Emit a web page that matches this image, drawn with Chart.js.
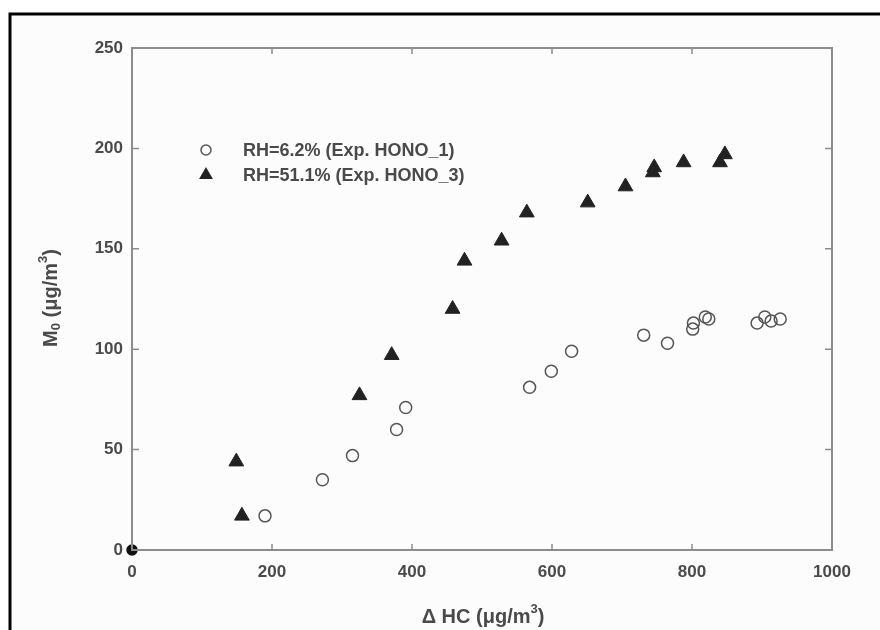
<!DOCTYPE html>
<html>
<head>
<meta charset="utf-8">
<script src="https://cdn.jsdelivr.net/npm/chart.js@4.4.1/dist/chart.umd.min.js"></script>
<style>
  html, body { margin: 0; padding: 0; background: #fff; }
  #wrap { width: 880px; height: 630px; }
</style>
</head>
<body>
<div id="wrap"><canvas id="chart" width="880" height="630"></canvas></div>
<script>
// RH=6.2% (Exp. HONO_1) - open circles
const hono1X = [0, 190, 272, 315, 378, 391, 568, 599, 628, 731, 765, 801, 802, 819, 824, 893, 904, 913, 926];
const hono1Y = [0, 17, 35, 47, 60, 71, 81, 89, 99, 107, 103, 110, 113, 116, 115, 113, 116, 114, 115];
// RH=51.1% (Exp. HONO_3) - filled triangles
const hono3X = [149, 157, 325, 371, 458, 475, 528, 564, 651, 705, 744, 746, 788, 840, 847];
const hono3Y = [44, 17, 77, 97, 120, 144, 154, 168, 173, 181, 188, 190.5, 193, 193, 197];

const xTicks = [0, 200, 400, 600, 800, 1000];
const yTicks = [0, 50, 100, 150, 200, 250];
const seriesLabels = ["RH=6.2% (Exp. HONO_1)", "RH=51.1% (Exp. HONO_3)"];

const toPoints = (xs, ys) => xs.map((x, i) => ({ x: x, y: ys[i] }));

const AXIS_COLOR = "#8c8c8c";
const TEXT_COLOR = "#4a4a4a";
const FONT = "Liberation Sans, Arial, sans-serif";

// draws text pieces with sub/superscripts, centred on (cx, cy)
function drawRich(ctx, parts, cx, cy, rotate) {
  ctx.save();
  ctx.translate(cx, cy);
  if (rotate) ctx.rotate(-Math.PI / 2);
  ctx.textBaseline = "middle";
  ctx.textAlign = "left";
  let total = 0;
  parts.forEach((p) => {
    ctx.font = "bold " + p.size + "px " + FONT;
    total += ctx.measureText(p.t).width;
  });
  let x = -total / 2;
  parts.forEach((p) => {
    ctx.font = "bold " + p.size + "px " + FONT;
    ctx.fillText(p.t, x, p.dy || 0);
    x += ctx.measureText(p.t).width;
  });
  ctx.restore();
}

const framePlugin = {
  id: "frame",
  beforeDraw(chart) {
    const ctx = chart.ctx;
    ctx.save();
    ctx.fillStyle = "#fcfcfc";
    ctx.fillRect(10, 14, 870, 616);
    ctx.strokeStyle = "#000";
    ctx.lineWidth = 3;
    ctx.beginPath();
    ctx.moveTo(10, 630);
    ctx.lineTo(10, 14);
    ctx.lineTo(880, 14);
    ctx.stroke();
    ctx.restore();
  },
  afterDatasetsDraw(chart) {
    const ctx = chart.ctx;
    const a = chart.chartArea;
    const xs = chart.scales.x, ys = chart.scales.y;
    ctx.save();
    ctx.strokeStyle = AXIS_COLOR;
    ctx.lineWidth = 2;
    ctx.strokeRect(a.left, a.top, a.right - a.left, a.bottom - a.top);
    ctx.lineWidth = 1.5;
    ctx.beginPath();
    xTicks.forEach((v) => {
      const px = xs.getPixelForValue(v);
      ctx.moveTo(px, a.bottom); ctx.lineTo(px, a.bottom - 6);
      ctx.moveTo(px, a.top); ctx.lineTo(px, a.top + 6);
    });
    yTicks.forEach((v) => {
      const py = ys.getPixelForValue(v);
      ctx.moveTo(a.left, py); ctx.lineTo(a.left + 7, py);
      ctx.moveTo(a.right, py); ctx.lineTo(a.right - 7, py);
    });
    ctx.stroke();

    // legend inside the plot
    ctx.strokeStyle = "#555";
    ctx.lineWidth = 1.5;
    ctx.beginPath();
    ctx.arc(206, 150, 5, 0, Math.PI * 2);
    ctx.stroke();
    ctx.fillStyle = "#222";
    ctx.strokeStyle = "#222";
    Chart.helpers.drawPoint(ctx, { pointStyle: "triangle", radius: 6.5, borderWidth: 1 }, 206, 175);
    ctx.fillStyle = TEXT_COLOR;
    ctx.font = "bold 18px " + FONT;
    ctx.textBaseline = "middle";
    ctx.textAlign = "left";
    ctx.fillText(seriesLabels[0], 243, 151);
    ctx.fillText(seriesLabels[1], 243, 176);

    // axis titles
    drawRich(ctx, [
      { t: "M", size: 20 },
      { t: "0", size: 13, dy: 5 },
      { t: " (\u03bcg/m", size: 20 },
      { t: "3", size: 13, dy: -8 },
      { t: ")", size: 20 }
    ], 51, 298, true);
    drawRich(ctx, [
      { t: "\u0394 HC (\u03bcg/m", size: 20 },
      { t: "3", size: 13, dy: -8 },
      { t: ")", size: 20 }
    ], 483, 617, false);
    ctx.restore();
  }
};

new Chart(document.getElementById("chart").getContext("2d"), {
  type: "scatter",
  data: {
    datasets: [
      {
        label: seriesLabels[0],
        data: toPoints(hono1X, hono1Y),
        clip: false,
        pointStyle: "circle",
        pointRadius: (c) => (c.raw && c.raw.x === 0 ? 5 : 6),
        pointBorderWidth: 1.5,
        pointBorderColor: (c) => (c.raw && c.raw.x === 0 ? "#111" : "#555"),
        pointBackgroundColor: (c) => (c.raw && c.raw.x === 0 ? "#111" : "rgba(0,0,0,0)"),
      },
      {
        label: seriesLabels[1],
        data: toPoints(hono3X, hono3Y),
        pointStyle: "triangle",
        pointRadius: 8.5,
        pointBorderWidth: 1,
        pointBorderColor: "#222",
        pointBackgroundColor: "#222",
      },
    ],
  },
  options: {
    responsive: false,
    animation: false,
    layout: { padding: { left: 0, top: 48, right: 48, bottom: 0 } },
    plugins: {
      legend: { display: false },
      tooltip: { enabled: false },
    },
    scales: {
      x: {
        type: "linear",
        min: 0,
        max: 1000,
        afterFit: (s) => { s.height = 80; },
        grid: { display: true, drawOnChartArea: false, drawTicks: false },
        border: { display: false },
        ticks: {
          stepSize: 200, padding: 12, color: TEXT_COLOR,
          font: { family: FONT, size: 17, weight: "bold" },
          callback: (v) => String(v),
        },
      },
      y: {
        type: "linear",
        min: 0,
        max: 250,
        afterFit: (s) => { s.width = 132; },
        grid: { display: true, drawOnChartArea: false, drawTicks: false },
        border: { display: false },
        ticks: {
          stepSize: 50, padding: 9, color: TEXT_COLOR,
          font: { family: FONT, size: 17, weight: "bold" },
          callback: (v) => String(v),
        },
      },
    },
  },
  plugins: [framePlugin],
});
</script>
</body>
</html>
